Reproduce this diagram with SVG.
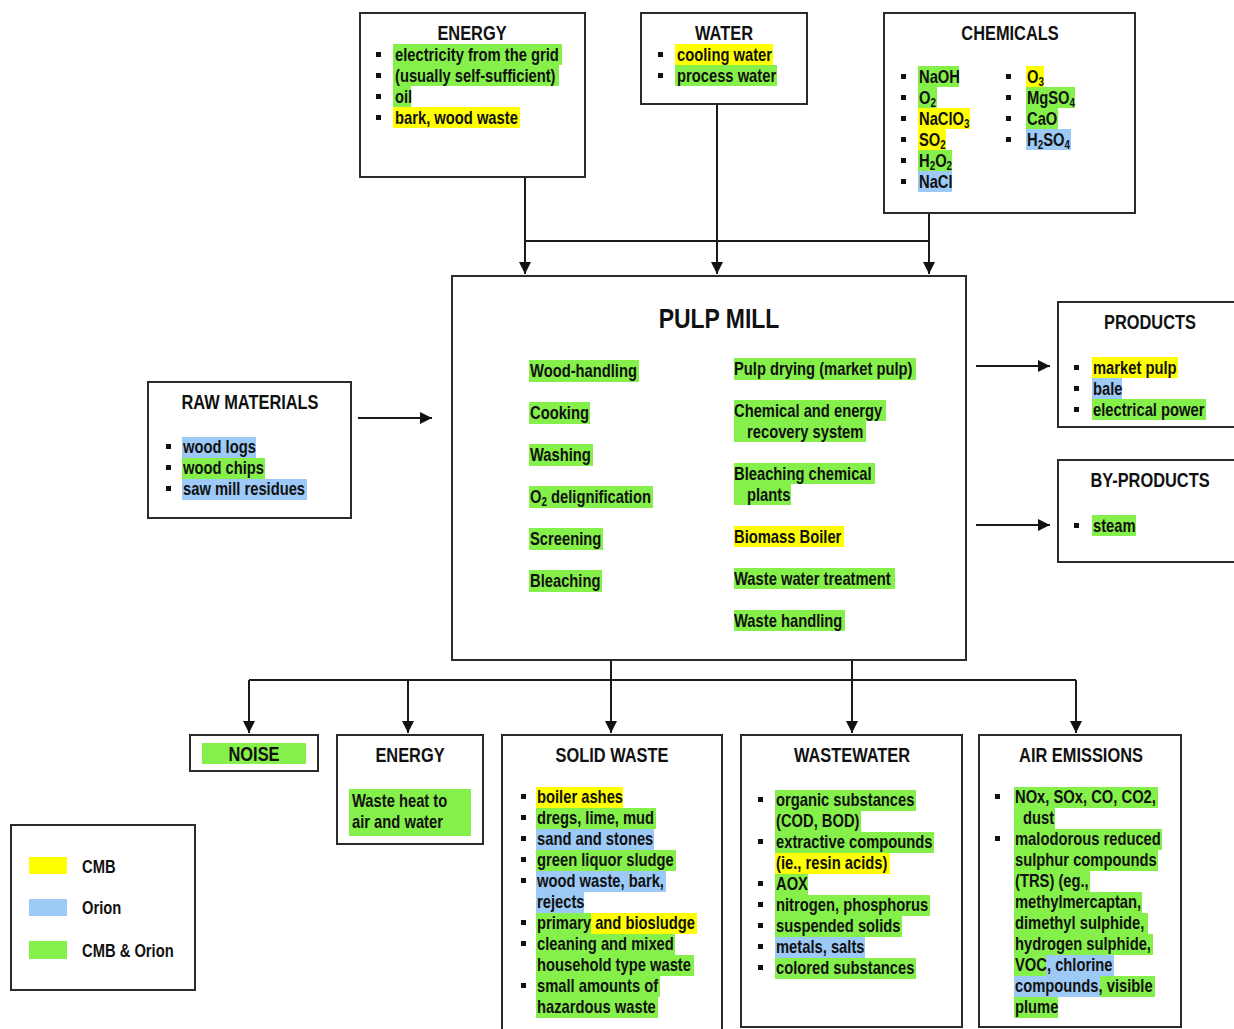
<svg xmlns="http://www.w3.org/2000/svg" width="1234" height="1029" viewBox="0 0 1234 1029">
<style>
.box{fill:#fff;stroke:#2b2b2b;stroke-width:2}
.ln{fill:none;stroke:#1a1a1a;stroke-width:2}
.t{font-family:"Liberation Sans",Arial,sans-serif;font-weight:bold;font-size:18px;fill:#111}
.h{font-family:"Liberation Sans",Arial,sans-serif;font-weight:bold;font-size:20px;fill:#111;text-anchor:middle}
.s{font-size:12px}
.y{fill:#ffff00}
.b{fill:#9cc9f5}
.g{fill:#86f04a}
.bl{fill:#111}
</style>
<defs>
<marker id="ar" markerWidth="12" markerHeight="12" refX="12" refY="6" orient="auto" markerUnits="userSpaceOnUse">
<path d="M0,0 L12,6 L0,12 Z" fill="#111"/>
</marker>
</defs>

<g id="connectors">
<path class="ln" d="M525,177 V274" marker-end="url(#ar)"/>
<path class="ln" d="M717,104 V274" marker-end="url(#ar)"/>
<path class="ln" d="M929,213 V274" marker-end="url(#ar)"/>
<path class="ln" d="M525,241 H929"/>
<path class="ln" d="M358,418 H432" marker-end="url(#ar)"/>
<path class="ln" d="M976,366 H1050" marker-end="url(#ar)"/>
<path class="ln" d="M976,525 H1050" marker-end="url(#ar)"/>
<path class="ln" d="M611,660 V733" marker-end="url(#ar)"/>
<path class="ln" d="M852,660 V733" marker-end="url(#ar)"/>
<path class="ln" d="M249,680 H1076"/>
<path class="ln" d="M249,680 V733" marker-end="url(#ar)"/>
<path class="ln" d="M408,680 V733" marker-end="url(#ar)"/>
<path class="ln" d="M1076,680 V733" marker-end="url(#ar)"/>
</g>

<g id="energy-in">
<rect class="box" x="360" y="13" width="225" height="164"/>
<text class="h" transform="translate(472 40) scale(.82 1)">ENERGY</text>
<rect class="g" x="393" y="44" width="169" height="21"/>
<rect class="g" x="393" y="65" width="166" height="21"/>
<rect class="g" x="393" y="86" width="18" height="21"/>
<rect class="y" x="393" y="107" width="127" height="21"/>
<rect class="bl" x="376" y="52" width="5" height="5"/>
<rect class="bl" x="376" y="73" width="5" height="5"/>
<rect class="bl" x="376" y="94" width="5" height="5"/>
<rect class="bl" x="376" y="115" width="5" height="5"/>
<text class="t" transform="translate(395 61) scale(.82 1)">electricity from the grid</text>
<text class="t" transform="translate(395 82) scale(.82 1)">(usually self-sufficient)</text>
<text class="t" transform="translate(395 103) scale(.82 1)">oil</text>
<text class="t" transform="translate(395 124) scale(.82 1)">bark, wood waste</text>
</g>

<g id="water">
<rect class="box" x="641" y="13" width="166" height="91"/>
<text class="h" transform="translate(724 40) scale(.82 1)">WATER</text>
<rect class="y" x="675" y="44" width="98" height="21"/>
<rect class="g" x="675" y="65" width="102" height="21"/>
<rect class="bl" x="658" y="52" width="5" height="5"/>
<rect class="bl" x="658" y="73" width="5" height="5"/>
<text class="t" transform="translate(677 61) scale(.82 1)">cooling water</text>
<text class="t" transform="translate(677 82) scale(.82 1)">process water</text>
</g>

<g id="chemicals">
<rect class="box" x="884" y="13" width="251" height="200"/>
<text class="h" transform="translate(1010 40) scale(.82 1)">CHEMICALS</text>
<rect class="g" x="918" y="66" width="41" height="21"/>
<rect class="g" x="918" y="87" width="19" height="21"/>
<rect class="y" x="918" y="108" width="52" height="21"/>
<rect class="y" x="918" y="129" width="28" height="21"/>
<rect class="g" x="918" y="150" width="34" height="21"/>
<rect class="b" x="918" y="171" width="34" height="21"/>
<rect class="y" x="1026" y="66" width="18" height="21"/>
<rect class="g" x="1026" y="87" width="49" height="21"/>
<rect class="g" x="1026" y="108" width="32" height="21"/>
<rect class="b" x="1026" y="129" width="45" height="21"/>
<rect class="bl" x="901" y="74" width="5" height="5"/>
<rect class="bl" x="901" y="95" width="5" height="5"/>
<rect class="bl" x="901" y="116" width="5" height="5"/>
<rect class="bl" x="901" y="137" width="5" height="5"/>
<rect class="bl" x="901" y="158" width="5" height="5"/>
<rect class="bl" x="901" y="179" width="5" height="5"/>
<rect class="bl" x="1006" y="74" width="5" height="5"/>
<rect class="bl" x="1006" y="95" width="5" height="5"/>
<rect class="bl" x="1006" y="116" width="5" height="5"/>
<rect class="bl" x="1006" y="137" width="5" height="5"/>
<text class="t" transform="translate(919 83) scale(.82 1)">NaOH</text>
<text class="t" transform="translate(919 104) scale(.82 1)">O<tspan class="s" dy="3">2</tspan></text>
<text class="t" transform="translate(919 125) scale(.82 1)">NaClO<tspan class="s" dy="3">3</tspan></text>
<text class="t" transform="translate(919 146) scale(.82 1)">SO<tspan class="s" dy="3">2</tspan></text>
<text class="t" transform="translate(919 167) scale(.82 1)">H<tspan class="s" dy="3">2</tspan><tspan dy="-3">O</tspan><tspan class="s" dy="3">2</tspan></text>
<text class="t" transform="translate(919 188) scale(.82 1)">NaCl</text>
<text class="t" transform="translate(1027 83) scale(.82 1)">O<tspan class="s" dy="3">3</tspan></text>
<text class="t" transform="translate(1027 104) scale(.82 1)">MgSO<tspan class="s" dy="3">4</tspan></text>
<text class="t" transform="translate(1027 125) scale(.82 1)">CaO</text>
<text class="t" transform="translate(1027 146) scale(.82 1)">H<tspan class="s" dy="3">2</tspan><tspan dy="-3">SO</tspan><tspan class="s" dy="3">4</tspan></text>
</g>

<g id="raw-materials">
<rect class="box" x="148" y="382" width="203" height="136"/>
<text class="h" transform="translate(250 409) scale(.82 1)">RAW MATERIALS</text>
<rect class="b" x="182" y="437" width="74" height="21"/>
<rect class="g" x="182" y="458" width="83" height="21"/>
<rect class="b" x="182" y="479" width="125" height="21"/>
<rect class="bl" x="166" y="444" width="5" height="5"/>
<rect class="bl" x="166" y="465" width="5" height="5"/>
<rect class="bl" x="166" y="486" width="5" height="5"/>
<text class="t" transform="translate(183 453) scale(.82 1)">wood logs</text>
<text class="t" transform="translate(183 474) scale(.82 1)">wood chips</text>
<text class="t" transform="translate(183 495) scale(.82 1)">saw mill residues</text>
</g>

<g id="pulp-mill">
<rect class="box" x="452" y="276" width="514" height="384"/>
<text class="h" transform="translate(719 328) scale(.82 1)" style="font-size:28px">PULP MILL</text>
<rect class="g" x="529" y="360" width="110" height="22"/>
<rect class="g" x="529" y="402" width="61" height="22"/>
<rect class="g" x="529" y="444" width="64" height="22"/>
<rect class="g" x="529" y="486" width="124" height="22"/>
<rect class="g" x="529" y="528" width="74" height="22"/>
<rect class="g" x="529" y="570" width="73" height="22"/>
<text class="t" transform="translate(530 377) scale(.82 1)">Wood-handling</text>
<text class="t" transform="translate(530 419) scale(.82 1)">Cooking</text>
<text class="t" transform="translate(530 461) scale(.82 1)">Washing</text>
<text class="t" transform="translate(530 503) scale(.82 1)">O<tspan class="s" dy="3">2</tspan><tspan dy="-3"> delignification</tspan></text>
<text class="t" transform="translate(530 545) scale(.82 1)">Screening</text>
<text class="t" transform="translate(530 587) scale(.82 1)">Bleaching</text>
<rect class="g" x="734" y="358" width="182" height="22"/>
<rect class="g" x="734" y="400" width="152" height="21"/>
<rect class="g" x="734" y="421" width="132" height="21"/>
<rect class="g" x="734" y="463" width="141" height="21"/>
<rect class="g" x="734" y="484" width="57" height="21"/>
<rect class="y" x="734" y="526" width="110" height="21"/>
<rect class="g" x="734" y="568" width="161" height="21"/>
<rect class="g" x="734" y="610" width="111" height="21"/>
<text class="t" transform="translate(734 375) scale(.82 1)">Pulp drying (market pulp)</text>
<text class="t" transform="translate(734 417) scale(.82 1)">Chemical and energy</text>
<text class="t" transform="translate(747 438) scale(.82 1)">recovery system</text>
<text class="t" transform="translate(734 480) scale(.82 1)">Bleaching chemical</text>
<text class="t" transform="translate(747 501) scale(.82 1)">plants</text>
<text class="t" transform="translate(734 543) scale(.82 1)">Biomass Boiler</text>
<text class="t" transform="translate(734 585) scale(.82 1)">Waste water treatment</text>
<text class="t" transform="translate(734 627) scale(.82 1)">Waste handling</text>
</g>

<g id="products">
<rect class="box" x="1058" y="302" width="180" height="125"/>
<text class="h" transform="translate(1150 329) scale(.82 1)">PRODUCTS</text>
<rect class="y" x="1092" y="357" width="86" height="21"/>
<rect class="b" x="1092" y="378" width="30" height="21"/>
<rect class="g" x="1092" y="399" width="114" height="21"/>
<rect class="bl" x="1074" y="365" width="5" height="5"/>
<rect class="bl" x="1074" y="386" width="5" height="5"/>
<rect class="bl" x="1074" y="407" width="5" height="5"/>
<text class="t" transform="translate(1093 374) scale(.82 1)">market pulp</text>
<text class="t" transform="translate(1093 395) scale(.82 1)">bale</text>
<text class="t" transform="translate(1093 416) scale(.82 1)">electrical power</text>
</g>

<g id="by-products">
<rect class="box" x="1058" y="460" width="180" height="102"/>
<text class="h" transform="translate(1150 487) scale(.82 1)">BY-PRODUCTS</text>
<rect class="g" x="1092" y="515" width="44" height="21"/>
<rect class="bl" x="1074" y="523" width="5" height="5"/>
<text class="t" transform="translate(1093 532) scale(.82 1)">steam</text>
</g>

<g id="noise">
<rect class="box" x="190" y="735" width="128" height="36"/>
<rect class="g" x="202" y="743" width="104" height="21"/>
<text class="h" transform="translate(254 761) scale(.82 1)">NOISE</text>
</g>

<g id="energy-out">
<rect class="box" x="337" y="735" width="146" height="109"/>
<text class="h" transform="translate(410 762) scale(.82 1)">ENERGY</text>
<rect class="g" x="349" y="789" width="122" height="47"/>
<text class="t" transform="translate(352 807) scale(.82 1)">Waste heat to</text>
<text class="t" transform="translate(352 828) scale(.82 1)">air and water</text>
</g>

<g id="solid-waste">
<rect class="box" x="502" y="735" width="220" height="300"/>
<text class="h" transform="translate(612 762) scale(.82 1)">SOLID WASTE</text>
<rect class="y" x="536" y="787" width="87" height="21"/>
<rect class="g" x="536" y="808" width="120" height="21"/>
<rect class="b" x="536" y="829" width="118" height="21"/>
<rect class="g" x="536" y="850" width="140" height="21"/>
<rect class="b" x="536" y="871" width="130" height="21"/>
<rect class="b" x="536" y="892" width="48" height="21"/>
<rect class="g" x="536" y="913" width="55" height="21"/>
<rect class="y" x="591" y="913" width="106" height="21"/>
<rect class="g" x="536" y="934" width="139" height="21"/>
<rect class="g" x="536" y="955" width="158" height="21"/>
<rect class="g" x="536" y="976" width="124" height="21"/>
<rect class="g" x="536" y="997" width="122" height="21"/>
<rect class="bl" x="521" y="794" width="5" height="5"/>
<rect class="bl" x="521" y="815" width="5" height="5"/>
<rect class="bl" x="521" y="836" width="5" height="5"/>
<rect class="bl" x="521" y="857" width="5" height="5"/>
<rect class="bl" x="521" y="878" width="5" height="5"/>
<rect class="bl" x="521" y="920" width="5" height="5"/>
<rect class="bl" x="521" y="941" width="5" height="5"/>
<rect class="bl" x="521" y="983" width="5" height="5"/>
<text class="t" transform="translate(537 803) scale(.82 1)">boiler ashes</text>
<text class="t" transform="translate(537 824) scale(.82 1)">dregs, lime, mud</text>
<text class="t" transform="translate(537 845) scale(.82 1)">sand and stones</text>
<text class="t" transform="translate(537 866) scale(.82 1)">green liquor sludge</text>
<text class="t" transform="translate(537 887) scale(.82 1)">wood waste, bark,</text>
<text class="t" transform="translate(537 908) scale(.82 1)">rejects</text>
<text class="t" transform="translate(537 929) scale(.82 1)">primary and biosludge</text>
<text class="t" transform="translate(537 950) scale(.82 1)">cleaning and mixed</text>
<text class="t" transform="translate(537 971) scale(.82 1)">household type waste</text>
<text class="t" transform="translate(537 992) scale(.82 1)">small amounts of</text>
<text class="t" transform="translate(537 1013) scale(.82 1)">hazardous waste</text>
</g>

<g id="wastewater">
<rect class="box" x="741" y="735" width="221" height="292"/>
<text class="h" transform="translate(852 762) scale(.82 1)">WASTEWATER</text>
<rect class="g" x="775" y="790" width="141" height="21"/>
<rect class="g" x="775" y="811" width="86" height="21"/>
<rect class="g" x="775" y="832" width="159" height="21"/>
<rect class="y" x="775" y="853" width="115" height="21"/>
<rect class="g" x="775" y="874" width="33" height="21"/>
<rect class="g" x="775" y="895" width="155" height="21"/>
<rect class="g" x="775" y="916" width="127" height="21"/>
<rect class="b" x="775" y="937" width="90" height="21"/>
<rect class="g" x="775" y="958" width="141" height="21"/>
<rect class="bl" x="758" y="797" width="5" height="5"/>
<rect class="bl" x="758" y="839" width="5" height="5"/>
<rect class="bl" x="758" y="881" width="5" height="5"/>
<rect class="bl" x="758" y="902" width="5" height="5"/>
<rect class="bl" x="758" y="923" width="5" height="5"/>
<rect class="bl" x="758" y="944" width="5" height="5"/>
<rect class="bl" x="758" y="965" width="5" height="5"/>
<text class="t" transform="translate(776 806) scale(.82 1)">organic substances</text>
<text class="t" transform="translate(776 827) scale(.82 1)">(COD, BOD)</text>
<text class="t" transform="translate(776 848) scale(.82 1)">extractive compounds</text>
<text class="t" transform="translate(776 869) scale(.82 1)">(ie., resin acids)</text>
<text class="t" transform="translate(776 890) scale(.82 1)">AOX</text>
<text class="t" transform="translate(776 911) scale(.82 1)">nitrogen, phosphorus</text>
<text class="t" transform="translate(776 932) scale(.82 1)">suspended solids</text>
<text class="t" transform="translate(776 953) scale(.82 1)">metals, salts</text>
<text class="t" transform="translate(776 974) scale(.82 1)">colored substances</text>
</g>

<g id="air-emissions">
<rect class="box" x="979" y="735" width="202" height="292"/>
<text class="h" transform="translate(1081 762) scale(.82 1)">AIR EMISSIONS</text>
<rect class="g" x="1014" y="787" width="144" height="21"/>
<rect class="g" x="1014" y="808" width="41" height="21"/>
<rect class="g" x="1014" y="829" width="148" height="21"/>
<rect class="g" x="1014" y="850" width="144" height="21"/>
<rect class="g" x="1014" y="871" width="76" height="21"/>
<rect class="g" x="1014" y="892" width="128" height="21"/>
<rect class="g" x="1014" y="913" width="134" height="21"/>
<rect class="g" x="1014" y="934" width="139" height="21"/>
<rect class="g" x="1014" y="955" width="32" height="21"/>
<rect class="b" x="1046" y="955" width="68" height="21"/>
<rect class="b" x="1014" y="976" width="86" height="21"/>
<rect class="g" x="1100" y="976" width="55" height="21"/>
<rect class="g" x="1014" y="997" width="44" height="21"/>
<rect class="bl" x="995" y="794" width="5" height="5"/>
<rect class="bl" x="995" y="836" width="5" height="5"/>
<text class="t" transform="translate(1015 803) scale(.82 1)">NOx, SOx, CO, CO2,</text>
<text class="t" transform="translate(1023 824) scale(.82 1)">dust</text>
<text class="t" transform="translate(1015 845) scale(.82 1)">malodorous reduced</text>
<text class="t" transform="translate(1015 866) scale(.82 1)">sulphur compounds</text>
<text class="t" transform="translate(1015 887) scale(.82 1)">(TRS) (eg.,</text>
<text class="t" transform="translate(1015 908) scale(.82 1)">methylmercaptan,</text>
<text class="t" transform="translate(1015 929) scale(.82 1)">dimethyl sulphide,</text>
<text class="t" transform="translate(1015 950) scale(.82 1)">hydrogen sulphide,</text>
<text class="t" transform="translate(1015 971) scale(.82 1)">VOC, chlorine</text>
<text class="t" transform="translate(1015 992) scale(.82 1)">compounds, visible</text>
<text class="t" transform="translate(1015 1013) scale(.82 1)">plume</text>
</g>

<g id="legend">
<rect class="box" x="11" y="825" width="184" height="165"/>
<rect class="y" x="29" y="857" width="38" height="17"/>
<rect class="b" x="29" y="899" width="38" height="17"/>
<rect class="g" x="29" y="941" width="38" height="18"/>
<text class="t" transform="translate(82 873) scale(.82 1)">CMB</text>
<text class="t" transform="translate(82 914) scale(.82 1)">Orion</text>
<text class="t" transform="translate(82 957) scale(.82 1)">CMB &amp; Orion</text>
</g>
</svg>
